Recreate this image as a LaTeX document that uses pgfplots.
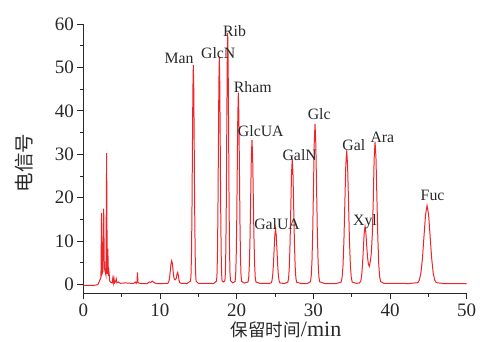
\documentclass[border=0pt]{standalone}
\usepackage{pgfplots}
\pgfplotsset{compat=1.18}
\usepackage{fontspec}
\setmainfont{Liberation Serif}
\newfontfamily\cjk{Noto Sans CJK SC}
\definecolor{trace}{RGB}{238,36,40}
\definecolor{axc}{RGB}{40,40,40}
\begin{document}
\begin{tikzpicture}
\begin{axis}[
  scale only axis, width=383.4bp, height=269.3bp,
  xmin=0, xmax=50, ymin=-2, ymax=60,
  axis x line=bottom, axis y line=left,
  axis line style={-, line width=0.8pt, color=axc},
  xtick={0,10,...,50}, ytick={0,10,...,60},
  minor x tick num=1, minor y tick num=1,
  tick align=outside, major tick length=6bp, minor tick length=3.5bp,
  every tick/.style={line width=0.8pt, color=axc},
  ticklabel style={font=\fontsize{19bp}{21bp}\selectfont, text=axc},
  xticklabel style={yshift=-1.5bp},
  /pgf/number format/assume math mode=true,
  xlabel={{\cjk\fontsize{17.5bp}{20bp}\selectfont 保留时间}{\fontsize{22bp}{22bp}\selectfont /min}},
  ylabel={\cjk\fontsize{19.5bp}{20bp}\selectfont 电信号},
  xlabel style={at={(axis description cs:0.529,-0.137)}, anchor=center, text=axc},
  ylabel style={at={(axis description cs:-0.154,0.484)}, anchor=center, text=axc},
  clip=false,
]
\addplot[trace, line width=1pt] coordinates {
(0,-0.15)(1.5,-0.15)(1.9,0)(2.1,0.8)(2.3,1.6)(2.38,16.5)(2.45,2.5)(2.55,3)(2.66,17.5)(2.74,4)(2.85,3)(2.95,2.2)(3.04,30.3)(3.12,2.5)(3.2,8.3)(3.28,2.0)(3.36,2.8)(3.45,0.8)(3.6,0.5)(3.75,0.4)(3.85,1.5)(3.92,0.4)(4.0,1.4)(4.08,0.4)(4.2,0.7)(4.3,1.3)(4.38,0.4)(4.6,0.6)(4.8,0.3)(5.5,0.4)(6.2,0.3)(6.6,0.3)(6.8,0.6)(6.9,0.3)(7.0,0.6)(7.06,2.8)(7.14,0.4)(7.5,0.25)(8.3,0.2)(8.6,0.6)(8.8,0.5)(9.0,0.8)(9.2,0.5)(9.5,0.25)(10.5,0.25)(11.0,0.3)
(11.105,0.48)(11.19,0.96)(11.275,1.95)(11.36,3.43)(11.445,4.88)(11.53,5.5)(11.615,4.88)(11.70,3.43)(11.785,1.95)(11.87,1.3)(11.98,1.1)(12.08,1.3)
(12.15,1.6)(12.22,2.4)(12.31,2.8)(12.4,2.1)(12.48,1.0)(12.58,0.45)(12.75,0.3)(13.5,0.25)
(13.99,0.81)(14.05,2.46)(14.11,7.06)(14.17,16.6)(14.23,30.79)(14.29,44.68)(14.35,50.6)(14.41,44.68)(14.47,30.79)(14.53,16.6)(14.59,7.06)(14.65,2.46)(14.71,0.81)(15.0,0.3)(17.0,0.25)
(17.38,0.83)(17.44,2.54)(17.50,7.32)(17.56,17.22)(17.62,31.94)(17.68,46.36)(17.74,52.5)(17.80,46.36)(17.86,31.94)(17.92,17.22)(17.98,7.32)(18.04,2.54)(18.10,0.83)(18.28,0.6)
(18.47,0.89)(18.53,2.78)(18.59,8.05)(18.65,18.97)(18.71,35.21)(18.77,51.13)(18.83,57.9)(18.89,51.13)(18.95,35.21)(19.01,18.97)(19.07,8.05)(19.13,2.78)(19.19,0.89)(19.5,0.4)
(19.80,0.74)(19.87,2.18)(19.94,6.2)(20.01,14.52)(20.08,26.91)(20.15,39.04)(20.22,44.2)(20.29,39.04)(20.36,26.91)(20.43,14.52)(20.50,6.2)(20.57,2.18)(20.64,0.74)(21.0,0.35)
(21.49,0.62)(21.575,1.7)(21.66,4.72)(21.745,10.98)(21.83,20.29)(21.915,29.42)(22.0,33.3)(22.085,29.42)(22.17,20.29)(22.255,10.98)(22.34,4.72)(22.425,1.7)(22.51,0.62)(23.0,0.3)(24.2,0.25)
(24.5,0.39)(24.595,0.8)(24.69,1.95)(24.785,4.32)(24.88,7.86)(24.975,11.33)(25.07,12.8)(25.165,11.33)(25.26,7.86)(25.355,4.32)(25.45,1.95)(25.545,0.8)(25.64,0.39)(26.2,0.25)
(26.68,0.57)(26.775,1.51)(26.87,4.13)(26.965,9.55)(27.06,17.63)(27.155,25.53)(27.25,28.9)(27.345,25.53)(27.44,17.63)(27.535,9.55)(27.63,4.13)(27.725,1.51)(27.82,0.57)(28.4,0.25)(29.2,0.25)
(29.62,0.66)(29.72,1.86)(29.82,5.22)(29.92,12.18)(30.02,22.54)(30.12,32.68)(30.22,37.0)(30.32,32.68)(30.42,22.54)(30.52,12.18)(30.62,5.22)(30.72,1.86)(30.82,0.66)(31.5,0.25)(33.0,0.25)
(33.63,0.59)(33.75,1.6)(33.87,4.4)(33.99,10.2)(34.11,18.84)(34.23,27.3)(34.35,30.9)(34.47,27.3)(34.59,18.84)(34.71,10.2)(34.83,4.4)(34.95,1.6)(35.07,0.59)(35.6,0.3)
(36.0,0.35)(36.19,0.82)(36.30,2.02)(36.41,4.49)(36.52,8.17)(36.63,11.77)(36.74,13.3)(36.85,12.0)(36.96,9.0)(37.07,6.3)(37.18,4.7)(37.3,4.2)(37.45,5.5)(37.57,7.5)(37.69,11.5)(37.81,19.0)(37.93,29.0)(38.05,32.9)(38.17,29.1)(38.29,20.0)(38.41,10.9)(38.53,4.7)(38.65,1.8)(38.77,0.7)(39.2,0.3)(42.5,0.25)
(43.63,0.45)(43.83,1.04)(44.03,2.68)(44.23,6.08)(44.43,11.14)(44.63,16.09)(44.83,18.2)(45.03,16.09)(45.23,11.14)(45.43,6.08)(45.63,2.68)(45.83,1.04)(46.03,0.45)(47,0.25)(50,0.2)
};
\begin{scope}[every node/.style={anchor=base, inner sep=0pt, text=axc, font=\fontsize{15.8bp}{17bp}\selectfont}]
\node at (axis cs:12.48,51.0) {Man};
\node at (axis cs:17.6,52.1) {GlcN};
\node at (axis cs:19.72,57.1) {Rib};
\node at (axis cs:22.1,44.2) {Rham};
\node at (axis cs:23.15,34.1) {GlcUA};
\node at (axis cs:25.27,12.8) {GalUA};
\node at (axis cs:28.22,28.5) {GalN};
\node at (axis cs:30.77,38.1) {Glc};
\node at (axis cs:35.28,30.9) {Gal};
\node at (axis cs:36.74,13.6) {Xyl};
\node at (axis cs:39.0,32.7) {Ara};
\node at (axis cs:45.55,19.3) {Fuc};
\end{scope}
\end{axis}
\pgfresetboundingbox
\path[use as bounding box] (-83.3bp,-48.7bp) rectangle (396.7bp,293.3bp);
\end{tikzpicture}
\end{document}
